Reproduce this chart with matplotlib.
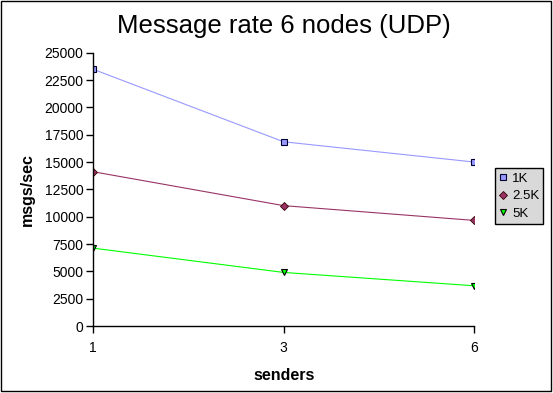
import matplotlib
matplotlib.use('Agg')
import matplotlib.pyplot as plt
from matplotlib.patches import Rectangle

plt.rcParams['font.family'] = ['Liberation Sans', 'DejaVu Sans']

# Data
senders = ['1', '3', '6']
rate_1k = [23480, 16850, 15000]
rate_2_5k = [14110, 11010, 9660]
rate_5k = [7120, 4900, 3680]

fig = plt.figure(figsize=(5.53, 3.93), dpi=100)
ax = fig.add_axes([93.3 / 553, 1 - 326 / 393, (474 - 93.3) / 553, (326 - 52.7) / 393])

x = range(len(senders))
ax.plot(x, rate_1k, color='#9999ff', lw=0.8, marker='s', ms=4.5,
        mfc='#9999ff', mec='#000033', mew=0.8, label='1K')
ax.plot(x, rate_2_5k, color='#993366', lw=0.8, marker='D', ms=3.8,
        mfc='#993366', mec='#330000', mew=0.6, label='2.5K')
ax.plot(x, rate_5k, color='#00ff00', lw=0.8, marker='v', ms=4.5,
        mfc='#00ff00', mec='#000000', mew=0.8, label='5K')

ax.set_xlim(0, len(senders) - 1)
ax.set_ylim(0, 25000)
ax.set_xticks(list(x))
ax.set_xticklabels(senders)
ax.set_yticks(range(0, 25001, 2500))

for s in ['top', 'right']:
    ax.spines[s].set_visible(False)
for s in ['left', 'bottom']:
    ax.spines[s].set_linewidth(1.0)
ax.tick_params(axis='both', direction='out', length=5, width=1.0, labelsize=10, pad=2)
ax.tick_params(axis='x', pad=6)

ax.set_title('Message rate 6 nodes (UDP)', fontsize=18.5, pad=14)
ax.set_xlabel('senders', fontsize=11.5, fontweight='bold', labelpad=9)
ax.set_ylabel('msgs/sec', fontsize=11.5, fontweight='bold', labelpad=7)

leg = ax.legend(loc='center left', bbox_to_anchor=(495 / 553, 1 - 196 / 393),
                bbox_transform=fig.transFigure, fontsize=9.5, frameon=True,
                fancybox=False, handlelength=0.6, handletextpad=0.4,
                borderpad=0.3, labelspacing=0.4, borderaxespad=0)
leg.get_frame().set_facecolor('#d9d9d9')
leg.get_frame().set_edgecolor('black')
leg.get_frame().set_linewidth(1.0)
leg.get_frame().set_alpha(1)
for h in leg.get_lines():
    h.set_linestyle('none')

# outer frame
fig.patches.append(Rectangle((0.5 / 553, 1 - 390.5 / 393), 550 / 553, 390 / 393,
                             transform=fig.transFigure, fill=False,
                             edgecolor='black', lw=1.0))

fig.savefig('out.png', dpi=100)
